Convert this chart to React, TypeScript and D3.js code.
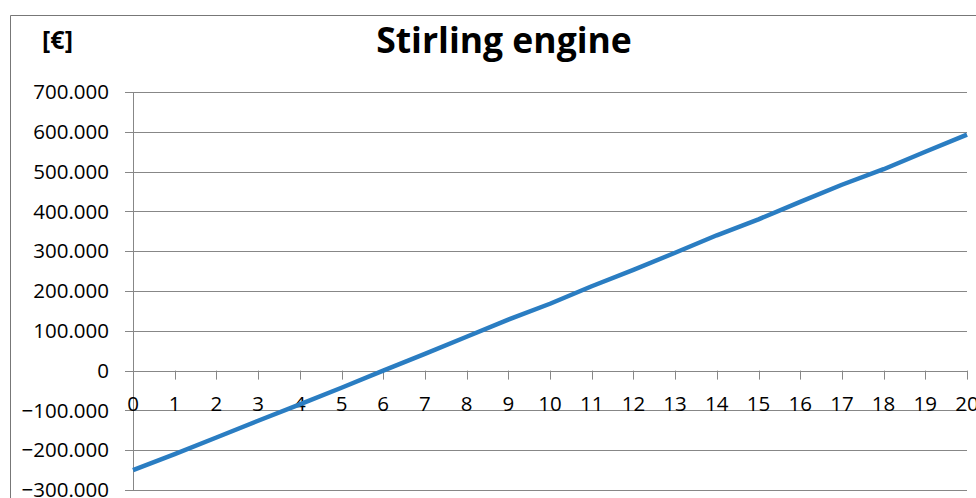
import * as d3 from "d3";

// years after investment and cumulative cash flow in €
const years = [0, 1, 2, 3, 4, 5, 6, 7, 8, 9, 10, 11, 12, 13, 14, 15, 16, 17, 18, 19, 20];
const cashFlow = [
     -250000, -210000, -168000, -126000, -85000, -43000, 0, 42000, 85000, 128000, 168000,
     212000, 253000, 296000, 340000, 380000, 424000, 467000, 506000, 550000, 593000,
];
const yTicks = [700000, 600000, 500000, 400000, 300000, 200000, 100000, 0, -100000, -200000, -300000];

const W = 976;
const H = 498;
const grid = "#878787";
const font = "'Open Sans', 'Noto Sans', sans-serif";

const fmt = (v: number) => (v === 0 ? "0" : d3.format(",.0f")(v).replace(/,/g, "."));

export default function App() {
     const x = d3.scaleLinear().domain([0, 20]).range([133, 967]);
     const y = d3.scaleLinear().domain([-300000, 700000]).range([490, 92]);

     const line = d3
          .line<number>()
          .x((_, i) => x(years[i]))
          .y((d) => y(d));

     return (
          <svg
               width={W}
               height={H}
               style={{ position: "fixed", top: 0, left: 0, background: "#fff" }}
               fontFamily={font}
          >
               {/* chart frame, cut by the picture edge */}
               <line x1={10.5} x2={W} y1={15.5} y2={15.5} stroke="#777" />
               <line x1={10.5} x2={10.5} y1={15.5} y2={H} stroke="#777" />

               <text x={504} y={53} textAnchor="middle" fontSize={35.5} fontWeight="bold">
                    Stirling engine
               </text>
               <text x={57.5} y={49} textAnchor="middle" fontSize={25} fontWeight="bold">
                    [€]
               </text>

               {/* horizontal grid + y ticks */}
               {yTicks.map((t) => (
                    <g key={t}>
                         <line x1={125} x2={967} y1={Math.round(y(t)) + 0.5} y2={Math.round(y(t)) + 0.5} stroke={grid} />
                         <text x={109} y={y(t)} dy="0.35em" textAnchor="end" fontSize={20.5} fill="#000">
                              {fmt(t)}
                         </text>
                    </g>
               ))}
               <line x1={133.5} x2={133.5} y1={y(700000)} y2={y(-300000)} stroke={grid} />

               {/* category axis at zero */}
               {years.map((yr) => (
                    <g key={yr}>
                         <line
                              x1={Math.round(x(yr)) + 0.5}
                              x2={Math.round(x(yr)) + 0.5}
                              y1={y(0)}
                              y2={y(0) + 9}
                              stroke={grid}
                         />
                         <text x={x(yr)} y={411} textAnchor="middle" fontSize={20.5} fill="#000">
                              {yr}
                         </text>
                    </g>
               ))}

               <path d={line(cashFlow) ?? ""} fill="none" stroke="#2a7dc2" strokeWidth={4.5} strokeLinejoin="round" />
          </svg>
     );
}
